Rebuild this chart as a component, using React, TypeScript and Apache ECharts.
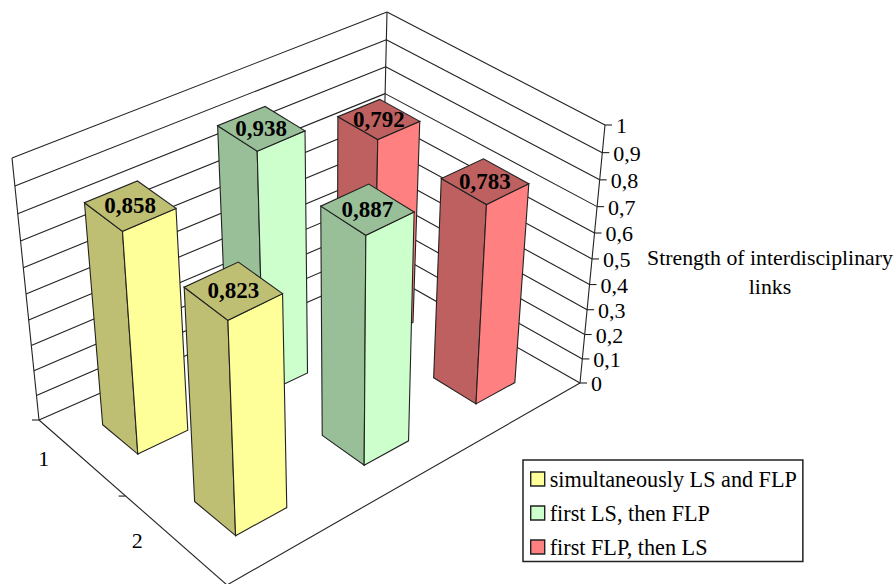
import React, { useEffect, useRef } from "react";
import * as echarts from "echarts";

const categories = ["1", "2"];
const seriesNames = ["simultaneously LS and FLP", "first LS, then FLP", "first FLP, then LS"];
const simultaneous = [0.858, 0.823];
const lsThenFlp = [0.938, 0.887];
const flpThenLs = [0.792, 0.783];
const valueTicks = [0, 0.1, 0.2, 0.3, 0.4, 0.5, 0.6, 0.7, 0.8, 0.9, 1];
const axisTitle = "Strength of interdisciplinary\nlinks";

const W = 896;
const H = 584;
const FONT = "'Liberation Serif', 'Times New Roman', serif";
const LINE = "#222";
const LW = 1.1;

type P = [number, number];
function makeHomography(p0: P, p1: P, p2: P, p3: P) {
  const dx1 = p1[0] - p2[0], dx2 = p3[0] - p2[0], sx = p0[0] - p1[0] + p2[0] - p3[0];
  const dy1 = p1[1] - p2[1], dy2 = p3[1] - p2[1], sy = p0[1] - p1[1] + p2[1] - p3[1];
  const den = dx1 * dy2 - dx2 * dy1;
  const g = (sx * dy2 - dx2 * sy) / den;
  const h = (dx1 * sy - sx * dy1) / den;
  const a = p1[0] - p0[0] + g * p1[0], b = p3[0] - p0[0] + h * p3[0], c = p0[0];
  const d = p1[1] - p0[1] + g * p1[1], e = p3[1] - p0[1] + h * p3[1], f = p0[1];
  return (u: number, v: number): P => {
    const w = g * u + h * v + 1;
    return [(a * u + b * v + c) / w, (d * u + e * v + f) / w];
  };
}
// u runs from the left wall corner to the back corner; v runs from the back wall to the front.
const floor = makeHomography([39, 420], [381, 270], [580, 383], [227, 585]);
const ceil = makeHomography([12, 158], [387, 12], [605, 125], [217, 317]);
const PERSPECTIVE = 1.08;
const project = (u: number, v: number, t: number): P => {
  const a = floor(u, v), b = ceil(u, v);
  const s = t / (t + (1 - t) * PERSPECTIVE);
  return [a[0] + (b[0] - a[0]) * s, a[1] + (b[1] - a[1]) * s];
};

const HALF_U = 0.0635;
const HALF_V = 0.1;
const SHIFT_U = -0.009;
const SHIFT_V = 0.004;
const heightOf = (api: any, value: number) => 1 - api.coord([0, value])[1] / H;

const seg = (a: P, b: P) => ({
  type: "line",
  silent: true,
  shape: { x1: a[0], y1: a[1], x2: b[0], y2: b[1] },
  style: { stroke: LINE, lineWidth: LW, fill: "none" },
});

function barSeries(name: string, idx: number, values: number[], light: string, dark: string) {
  return {
    type: "custom",
    name,
    coordinateSystem: "cartesian2d",
    clip: false,
    itemStyle: { color: light },
    data: values.map((v, i) => [i, v]),
    renderItem: (_p: any, api: any) => {
      const cat = api.value(0) as number;
      const val = api.value(1) as number;
      const t = heightOf(api, val);
      const uc = (idx + 0.5) / seriesNames.length + SHIFT_U;
      const vc = (cat + 0.5) / categories.length + SHIFT_V;
      const u0 = uc - HALF_U, u1 = uc + HALF_U, v0 = vc - HALF_V, v1 = vc + HALF_V;
      const poly = (pts: P[], fill: string) => ({
        type: "polygon",
        shape: { points: pts },
        style: { fill, stroke: LINE, lineWidth: LW },
      });
      const c = project(uc, vc, t);
      return {
        type: "group",
        children: [
          poly([project(u0, v0, 0), project(u0, v1, 0), project(u0, v1, t), project(u0, v0, t)], dark),
          poly([project(u0, v1, 0), project(u1, v1, 0), project(u1, v1, t), project(u0, v1, t)], light),
          poly([project(u0, v0, t), project(u0, v1, t), project(u1, v1, t), project(u1, v0, t)], dark),
          {
            type: "text",
            style: {
              x: c[0],
              y: c[1],
              text: val.toFixed(3).replace(".", ","),
              fontFamily: FONT,
              fontWeight: "bold",
              fontSize: 23,
              fill: "#000",
              align: "center",
              verticalAlign: "middle",
            },
          },
        ],
      };
    },
  };
}

export default function App() {
  const ref = useRef<HTMLDivElement>(null);
  useEffect(() => {
    document.body.style.margin = "0";
    const chart = echarts.init(ref.current!, undefined, { renderer: "svg" });
    const frameSeries = {
      type: "custom",
      name: "frame",
      coordinateSystem: "cartesian2d",
      clip: false,
      silent: true,
      data: valueTicks.map((v) => [0, v]),
      renderItem: (_p: any, api: any) => {
        const val = api.value(1) as number;
        const t = heightOf(api, val);
        const a = project(0, 0, t), b = project(1, 0, t), c = project(1, 1, t);
        const children: any[] = [
          seg(a, b),
          seg(b, c),
          seg([c[0], c[1]], [c[0] + 7, c[1]]),
          {
            type: "text",
            style: {
              x: c[0] + 11,
              y: c[1] + 0.5,
              text: String(val).replace(".", ","),
              fontFamily: FONT,
              fontSize: 22,
              fill: "#000",
              align: "left",
              verticalAlign: "middle",
            },
          },
        ];
        if (val === 0) {
          children.push(
            seg(project(0, 0, 0), project(0, 0, 1)),
            seg(project(1, 0, 0), project(1, 0, 1)),
            seg(project(1, 1, 0), project(1, 1, 1)),
            seg(project(0, 0, 0), project(0, 1, 0)),
            seg(project(0, 1, 0), project(1, 1, 0)),
            seg(project(0, 0, 0), [project(0, 0, 0)[0] - 7, project(0, 0, 0)[1]]),
            seg(project(0, 0.5, 0), [project(0, 0.5, 0)[0] - 7, project(0, 0.5, 0)[1]])
          );
          categories.forEach((label, i) => {
            const p = project(0, (i + 0.5) / categories.length, 0);
            children.push({
              type: "text",
              style: {
                x: p[0] - 37,
                y: p[1] + 2,
                text: label,
                fontFamily: FONT,
                fontSize: 22,
                fill: "#000",
                align: "center",
                verticalAlign: "middle",
              },
            });
          });
        }
        return { type: "group", children };
      },
    };
    chart.setOption({
      animation: false,
      backgroundColor: "#fff",
      grid: { left: 0, right: 0, top: 0, bottom: 0 },
      xAxis: { type: "category", data: categories, show: false },
      yAxis: { type: "value", min: 0, max: 1, show: false },
      legend: {
        left: 523,
        top: 460,
        orient: "vertical",
        data: seriesNames.map((name, i) => ({
          name,
          icon: "rect",
          itemStyle: { color: ["#ffff99", "#ccffcc", "#ff8080"][i], borderColor: "#222", borderWidth: 1.4 },
        })),
        itemWidth: 14,
        itemHeight: 14,
        itemGap: 12,
        padding: [8, 6, 3.5, 7],
        borderColor: "#222",
        borderWidth: 1.5,
        textStyle: { fontFamily: FONT, fontSize: 22.2, color: "#000" },
        selectedMode: false,
      },
      graphic: [
        {
          type: "text",
          style: {
            x: 770,
            y: 272,
            text: axisTitle,
            fontFamily: FONT,
            fontSize: 21.8,
            lineHeight: 29,
            fill: "#000",
            align: "center",
            verticalAlign: "middle",
          },
        },
      ],
      series: [
        frameSeries,
        barSeries(seriesNames[2], 2, flpThenLs, "#ff8080", "#bf6060"),
        barSeries(seriesNames[1], 1, lsThenFlp, "#ccffcc", "#99bf99"),
        barSeries(seriesNames[0], 0, simultaneous, "#ffff99", "#bfbf73"),
      ],
    });
    return () => chart.dispose();
  }, []);
  return <div ref={ref} style={{ width: W, height: H, position: "absolute", left: 0, top: 0 }} />;
}
